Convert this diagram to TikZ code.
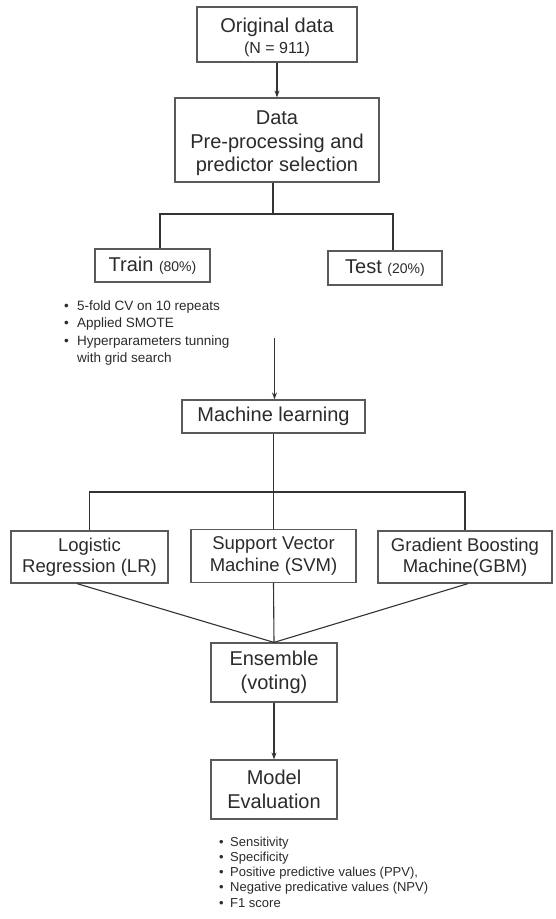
\documentclass[tikz,border=0pt]{standalone}
\usepackage{fontspec}
\setmainfont{Liberation Sans}
\usetikzlibrary{arrows.meta,calc}
\definecolor{txt}{HTML}{2B2B2B}
\definecolor{bord}{HTML}{5A5A5A}
\definecolor{ln}{HTML}{333333}
\newcommand\fsz[2]{\fontsize{#1}{#2}\selectfont}
\begin{document}
\begin{tikzpicture}[x=1pt,y=-1pt,
  box/.style={draw=bord,line width=1.2pt,inner sep=0pt,align=center,text=txt,font=\fsz{20}{23.5}},
  sbox/.style={box,font=\fsz{18.5}{21.5}},
  conn/.style={draw=ln,line width=1.1pt},
  arr/.style={conn,-{Stealth[length=7pt,width=5pt]}},
  bul/.style={anchor=west,inner sep=0pt,text=txt,font=\fsz{13.5}{16}},
  ebul/.style={anchor=west,inner sep=0pt,text=txt,font=\fsz{13}{15}}]
\useasboundingbox[fill=white] (0,0) rectangle (556,919);

% top part
\node[box,minimum width=160,minimum height=55] (orig) at (277,34.5)
  {\rule{0pt}{20pt}Original data\\[-3pt]{\fsz{16}{18}(N = 911)}};
\node[box,minimum width=204,minimum height=84] (data) at (277,140)
  {\rule{0pt}{20.5pt}Data\\Pre-processing and\\predictor selection};
\draw[arr] (orig.south) -- (data.north);

\node[box,minimum width=115,minimum height=33] (train) at (152.5,265.5)
  {Train {\fsz{14}{16}(80\%)}};
\node[box,minimum width=114,minimum height=34] (test) at (385,268)
  {Test {\fsz{14}{16}(20\%)}};

\coordinate (split) at (273,214);
\coordinate (splitl) at (160,214);
\coordinate (splitr) at (393,214);
\draw[conn] (data.south -| split) -- (split);
\draw[conn] (splitl |- train.north) -- (splitl) -- (splitr) -- (splitr |- test.north);

% training bullets
\node[bul] (b1) at (64,307) {\makebox[13pt][l]{•}5-fold CV on 10 repeats};
\node[bul] (b2) at (64,324.5) {\makebox[13pt][l]{•}Applied SMOTE};
\node[bul] (b3) at (64,342) {\makebox[13pt][l]{•}Hyperparameters tunning};
\node[bul] (b4) at (64,359) {\hspace*{13pt}with grid search};

% machine learning
\coordinate (mlin) at (274.5,338);
\node[box,minimum width=183,minimum height=33] (ml) at (273.5,416.5) {Machine learning};
\draw[arr] (mlin) -- (mlin |- ml.north);

\node[sbox,minimum width=157,minimum height=52] (lr) at (89.5,557)
  {Logistic\\Regression (LR)};
\node[sbox,minimum width=165,minimum height=53] (svm) at (273.5,556)
  {Support Vector\\Machine (SVM)};
\node[sbox,minimum width=174,minimum height=52] (gbm) at (465,557)
  {Gradient Boosting\\Machine(GBM)};

\coordinate (br) at (273.5,492);
\draw[conn] (ml.south) -- (svm.north);
\draw[conn] (lr.north) -- (lr.north |- br) -- (gbm.north |- br) -- (gbm.north);

% ensemble
\node[box,minimum width=126,minimum height=59] (ens) at (274,672.5)
  {Ensemble\\(voting)};
\draw[conn] ($(lr.south)+(-12.5,0)$) -- (ens.north);
\draw[conn] (svm.south) -- (ens.north);
\draw[conn] ($(gbm.south)+(3,0)$) -- (ens.north);

\node[box,minimum width=126,minimum height=59] (model) at (274,789.5)
  {Model\\Evaluation};
\draw[arr] (ens.south) -- (model.north);

% evaluation bullets
\node[ebul] (e1) at (219,843) {\makebox[11pt][l]{•}Sensitivity};
\node[ebul] (e2) at (219,858) {\makebox[11pt][l]{•}Specificity};
\node[ebul] (e3) at (219,873) {\makebox[11pt][l]{•}Positive predictive values (PPV),};
\node[ebul] (e4) at (219,888) {\makebox[11pt][l]{•}Negative predicative values (NPV)};
\node[ebul] (e5) at (219,903) {\makebox[11pt][l]{•}F1 score};
\end{tikzpicture}
\end{document}
